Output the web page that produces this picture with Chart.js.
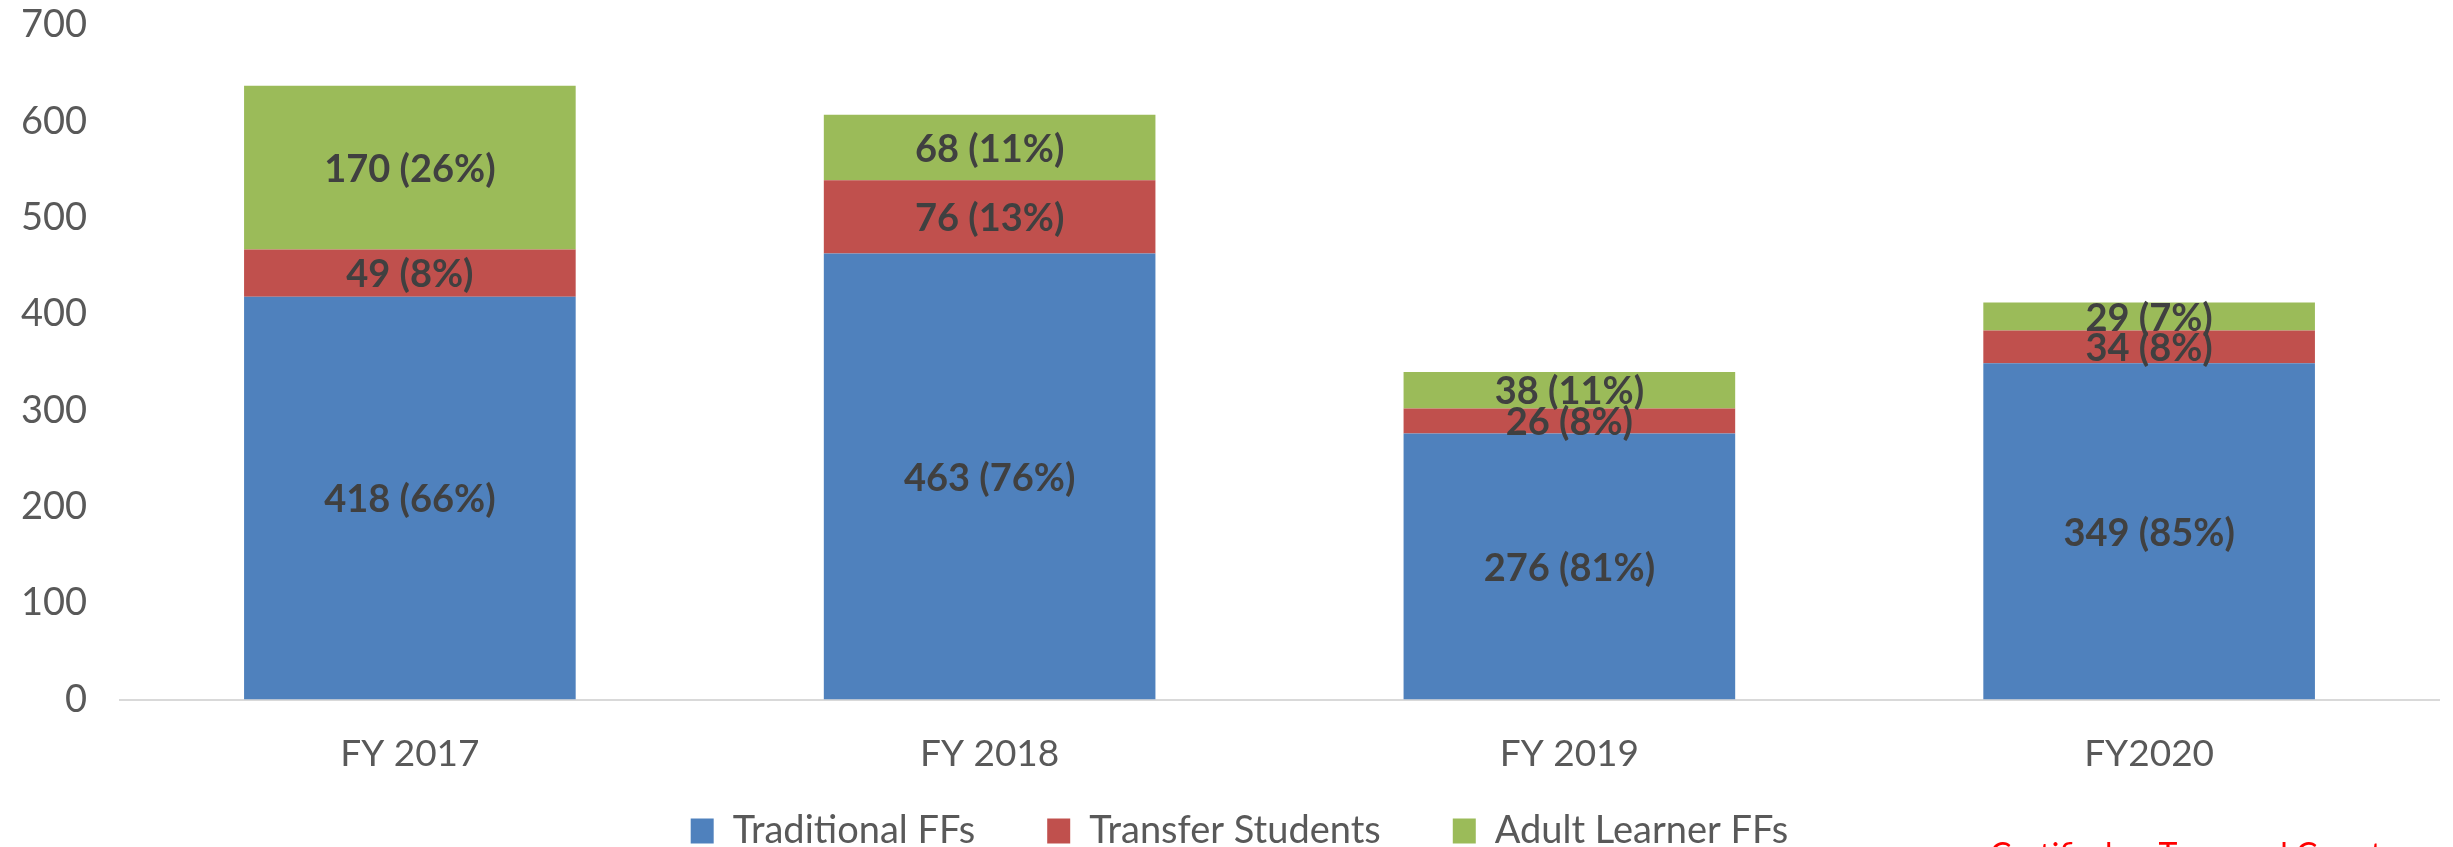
<!DOCTYPE html>
<html>
<head>
<meta charset="utf-8">
<script src="https://cdn.jsdelivr.net/npm/chart.js@4.4.1/dist/chart.umd.min.js"></script>
<style>
    body { margin: 0; background: #ffffff; }
    #wrap { width: 2453px; height: 847px; }
</style>
</head>
<body>
<div id="wrap"><canvas id="cohortChart" width="2453" height="847"></canvas></div>
<script>
// Data
const years = ["FY 2017", "FY 2018", "FY 2019", "FY2020"];
const traditional = [418, 463, 276, 349];
const transfer = [49, 76, 26, 34];
const adult = [170, 68, 38, 29];
const traditionalPct = [66, 76, 81, 85];
const transferPct = [8, 13, 8, 8];
const adultPct = [26, 11, 11, 7];
const yTicks = [0, 100, 200, 300, 400, 500, 600, 700];

const FONT = "Lato, 'Open Sans', sans-serif";

// draws "value (pct%)" in the middle of every stacked segment
const segmentLabels = {
    id: "segmentLabels",
    afterDatasetsDraw(chart) {
        const ctx = chart.ctx;
        ctx.save();
        ctx.font = "bold 38px " + FONT;
        ctx.fillStyle = "#404040";
        ctx.textAlign = "center";
        ctx.textBaseline = "middle";
        chart.data.datasets.forEach((ds, i) => {
            const meta = chart.getDatasetMeta(i);
            meta.data.forEach((bar, j) => {
                const y = (bar.y + bar.base) / 2;
                ctx.fillText(ds.data[j] + " (" + ds.pct[j] + "%)", bar.x, y + 2);
            });
        });
        ctx.restore();
    }
};

// pull the legend up closer to the axis labels (and a bit right)
const legendNudge = {
    id: "legendNudge",
    afterLayout(chart) {
        const lg = chart.legend;
        if (!lg) return;
        lg.top -= 34;
        lg.bottom -= 34;
        lg.left += 20;
        lg.right += 20;
    }
};

// red note at the bottom right, cut off by the edge of the picture
const cornerNote = {
    id: "cornerNote",
    afterDraw(chart) {
        const ctx = chart.ctx;
        ctx.save();
        ctx.font = "32px " + FONT;
        ctx.fillStyle = "#ff0000";
        ctx.textAlign = "left";
        ctx.textBaseline = "top";
        ctx.fillText("Certified as Temporal Count", 1990, 840);
        ctx.restore();
    }
};

const ctx = document.getElementById("cohortChart").getContext("2d");
const cohortChart = new Chart(ctx, {
    type: "bar",
    data: {
        labels: years,
        datasets: [
            { label: "Traditional FFs", data: traditional, pct: traditionalPct, backgroundColor: "#4F81BD" },
            { label: "Transfer Students", data: transfer, pct: transferPct, backgroundColor: "#C0504D" },
            { label: "Adult Learner FFs", data: adult, pct: adultPct, backgroundColor: "#9BBB59" }
        ]
    },
    options: {
        responsive: false,
        animation: false,
        devicePixelRatio: 1,
        layout: { padding: { top: 25, right: 14, left: 0, bottom: -47 } },
        datasets: {
            bar: { categoryPercentage: 1, barPercentage: 0.572 }
        },
        scales: {
            x: {
                stacked: true,
                afterFit: (scale) => { scale.height = scale.height - 34; },
                grid: { display: false, drawTicks: false },
                border: { display: true, color: "#d9d9d9", width: 2 },
                ticks: { color: "#595959", font: { family: FONT, size: 37 }, padding: 32 }
            },
            y: {
                stacked: true,
                min: 0,
                max: 700,
                afterBuildTicks: (scale) => { scale.ticks = yTicks.map(v => ({ value: v })); },
                afterFit: (scale) => { scale.width = 120; scale.paddingTop = 0; },
                grid: { display: false, drawTicks: false },
                border: { display: false },
                ticks: { color: "#595959", font: { family: FONT, size: 38 }, padding: 33 }
            }
        },
        plugins: {
            legend: {
                position: "bottom",
                labels: {
                    color: "#595959",
                    font: { family: FONT, size: 38 },
                    boxWidth: 23,
                    boxHeight: 25,
                    padding: 72
                }
            },
            tooltip: { enabled: false },
            title: { display: false }
        }
    },
    plugins: [segmentLabels, legendNudge, cornerNote]
});
</script>
</body>
</html>
